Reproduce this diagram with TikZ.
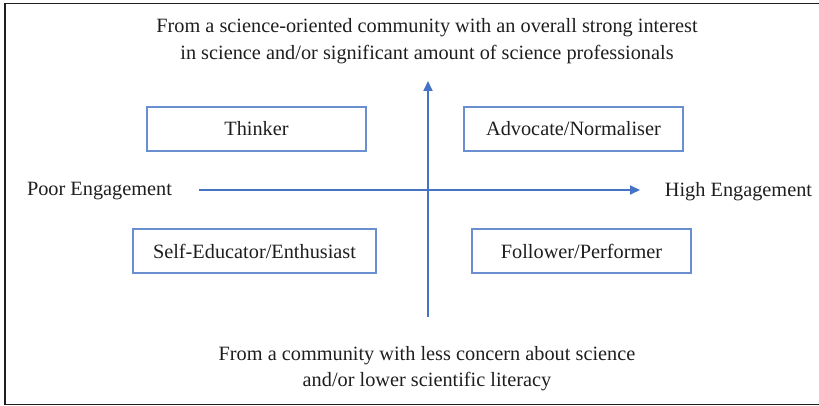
\documentclass[tikz,border=0pt]{standalone}
\usepackage{fontspec}
\setmainfont{Liberation Serif}
\usetikzlibrary{arrows.meta}
\definecolor{axisblue}{HTML}{4472C4}
\definecolor{boxblue}{HTML}{6A8FD0}
\definecolor{inkgrey}{HTML}{1E1E1E}
\begin{document}
\begin{tikzpicture}[x=1pt,y=-1pt,
  every node/.style={font=\fontsize{20.3}{26.5}\selectfont, text=inkgrey, inner sep=0pt},
  rolebox/.style={draw=boxblue, line width=1.2pt, minimum height=44pt},
  axisline/.style={draw=axisblue, line width=1.8pt, -{Triangle[length=10pt,width=9pt]}},
  caption/.style={align=center}]
  \useasboundingbox (0,0) rectangle (819,406);
  \clip (0,0) rectangle (819,406);
  % outer frame (right edge runs past the page)
  \draw[inkgrey, line width=1.5pt] (830,3.5) -- (5,3.5) -- (5,404.5) -- (830,404.5);

  % axes
  \coordinate (xs) at (199,190);
  \coordinate (xe) at (640,190);
  \coordinate (ys) at (428,317);
  \coordinate (ye) at (428,81);
  \draw[axisline] (xs) -- (xe);
  \draw[axisline] (ys) -- (ye);

  % quadrant roles
  \node[rolebox, minimum width=219pt] (thinker)  at (256.5,129) {Thinker};
  \node[rolebox, minimum width=219pt] (advocate) at (573.5,129) {Advocate/Normaliser};
  \node[rolebox, minimum width=243pt] (selfedu)  at (254.5,251) {Self-Educator/Enthusiast};
  \node[rolebox, minimum width=219pt] (follower) at (581.5,251) {Follower/Performer};

  % axis labels
  \node (poor) at (99.5,191.5) {Poor Engagement};
  \node (high) at (738.5,191.5) {High Engagement};
  \node[caption] (top) at (427,41) {From a science-oriented community with an overall strong interest\\in science and/or significant amount of science professionals};
  \node[caption] (bottom) at (427,368.5) {From a community with less concern about science\\and/or lower scientific literacy};
\end{tikzpicture}
\end{document}
